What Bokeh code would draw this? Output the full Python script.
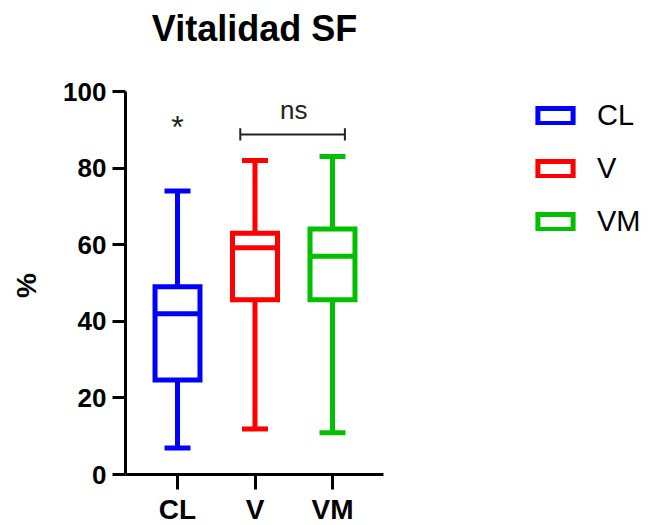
import math
from bokeh.plotting import figure
from bokeh.models import Range1d, FixedTicker, Legend, LegendItem, ColumnDataSource
from bokeh.embed import file_html
from bokeh.resources import INLINE
from bokeh.core.properties import value

# ---- data ----
categories = ["CL", "V", "VM"]
colors = ["#0000FF", "#FF0000", "#00C000"]
whisker_min = [6.9, 11.9, 10.9]
q1 = [24.7, 45.6, 45.6]
median = [42.0, 59.2, 57.0]
q3 = [49.0, 63.0, 64.1]
whisker_max = [74.0, 82.0, 83.0]
y_ticks = [0, 20, 40, 60, 80, 100]

sig_labels = ["*", "ns"]
sig_pos = [0.0, 1.5]
sig_val = [90.7, 95.3]
sig_size = ["32px", "26px"]
bracket_from = [0.81]
bracket_to = [2.16]
bracket_val = [88.8]
bracket_tick = [1.6]

title_text = "Vitalidad SF"
y_label = "%"

FONT = "Liberation Sans"
xs = list(range(len(categories)))
box_w = 0.58
cap_w = 0.335

# layout constants: the frame covers the whole canvas, axes are fixed in place
X_LO, X_HI = -0.671, 2.658      # extent of the category axis
PX_X = 77.5                     # pixels per category
PX_Y = 3.83                     # pixels per percent
W, H = 649, 525
AX_LEFT, AX_BOTTOM = 125, 474   # pixel position of the axes

x_start = X_LO - AX_LEFT / PX_X
x_end = x_start + W / PX_X
y_end = AX_BOTTOM / PX_Y
y_start = y_end - H / PX_Y

src = ColumnDataSource(dict(
    x=xs, cat=categories, color=colors, lo=whisker_min, q1=q1, med=median,
    q3=q3, hi=whisker_max,
    cap_l=[x - cap_w / 2 for x in xs], cap_r=[x + cap_w / 2 for x in xs],
    box_l=[x - box_w / 2 for x in xs], box_r=[x + box_w / 2 for x in xs],
))
sig_src = ColumnDataSource(dict(x=sig_pos, y=sig_val, text=sig_labels, size=sig_size))

p = figure(width=W, height=H, output_backend="svg", toolbar_location=None,
           x_range=Range1d(x_start, x_end), y_range=Range1d(y_start, y_end),
           min_border=0)
p.outline_line_color = None
p.grid.visible = False
p.background_fill_color = "white"
p.border_fill_color = "white"

# whiskers
p.segment(x0="x", y0="q3", x1="x", y1="hi", source=src, line_color="color", line_width=5)
p.segment(x0="x", y0="q1", x1="x", y1="lo", source=src, line_color="color", line_width=5)
p.segment(x0="cap_l", y0="hi", x1="cap_r", y1="hi", source=src, line_color="color", line_width=5)
p.segment(x0="cap_l", y0="lo", x1="cap_r", y1="lo", source=src, line_color="color", line_width=5)
# boxes
boxes = p.vbar(x="x", width=box_w, bottom="q1", top="q3", source=src, fill_color=None,
               line_color="color", line_width=5, line_join="miter")
# medians
p.segment(x0="box_l", y0="med", x1="box_r", y1="med", source=src, line_color="color", line_width=5)

# significance annotations
p.text(x="x", y="y", text="text", text_font_size="size", source=sig_src,
       text_font=value(FONT), text_align="center", text_baseline="alphabetic",
       text_color="#222222")
p.segment(x0=bracket_from, y0=bracket_val, x1=bracket_to, y1=bracket_val,
          line_color="#222222", line_width=2)
p.segment(x0=bracket_from + bracket_to,
          y0=[bracket_val[0] - bracket_tick[0]] * 2,
          x1=bracket_from + bracket_to,
          y1=[bracket_val[0] + bracket_tick[0]] * 2,
          line_color="#222222", line_width=2)

# title and y label as text
p.text(x=[(X_LO + X_HI) / 2], y=[y_end - 28 / PX_Y], text=[title_text],
       text_font=value(FONT), text_font_style="bold", text_font_size="36px",
       text_align="center", text_baseline="alphabetic", text_color="black")
p.text(x=[x_start + 26 / PX_X], y=[y_end - 285 / PX_Y], text=[y_label],
       text_font=value(FONT), text_font_style="bold", text_font_size="28px",
       text_align="center", text_baseline="middle", text_color="black",
       angle=math.pi / 2)

# axes fixed at the data origin
p.xaxis.fixed_location = 0
p.xaxis.bounds = (X_LO, X_HI)
p.xaxis.ticker = FixedTicker(ticks=xs)
p.xaxis.major_label_overrides = {i: c for i, c in zip(xs, categories)}
p.yaxis.fixed_location = X_LO
p.yaxis.bounds = (0, 100)
p.yaxis.ticker = FixedTicker(ticks=y_ticks)
for ax in (p.xaxis, p.yaxis):
    ax.axis_line_width = 3
    ax.axis_line_color = "black"
    ax.major_tick_line_width = 3
    ax.major_tick_line_color = "black"
    ax.major_tick_in = 0
    ax.minor_tick_line_color = None
    ax.major_label_text_font = FONT
    ax.major_label_text_font_style = "bold"
    ax.major_label_text_color = "black"
p.xaxis.major_tick_out = 15
p.yaxis.major_tick_out = 13
p.xaxis.major_label_text_font_size = "28px"
p.yaxis.major_label_text_font_size = "26px"
p.xaxis.major_label_standoff = 4
p.yaxis.major_label_standoff = 6

# legend
legend = Legend(items=[LegendItem(label=c, renderers=[boxes], index=i)
                       for i, c in enumerate(categories)],
                location=(533, 287), glyph_width=44, glyph_height=19,
                label_text_font=FONT, label_text_font_size="29px",
                label_text_color="black",
                label_standoff=20, spacing=20, padding=0, margin=0,
                border_line_color=None, background_fill_alpha=0)
p.add_layout(legend, "center")

open("out.html", "w").write(file_html(p, INLINE))
